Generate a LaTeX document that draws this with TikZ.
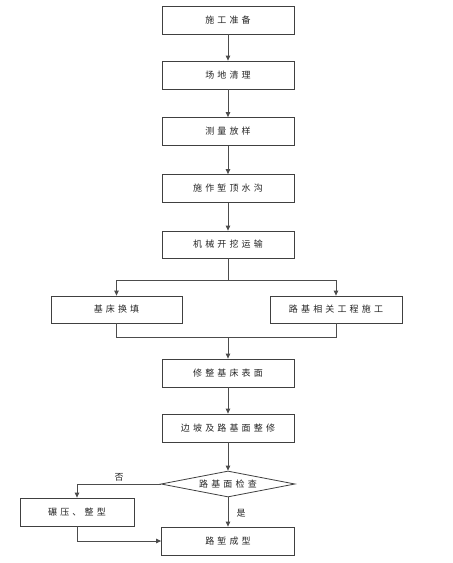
\documentclass[tikz,border=0pt]{standalone}
\usepackage{fontspec}
\newfontfamily\cjk[LetterSpace=35]{Noto Sans CJK SC}
\usetikzlibrary{shapes.geometric,arrows.meta}
\begin{document}
\begin{tikzpicture}[x=1pt,y=-1pt,
  box/.style={draw=black!75,line width=0.8pt,minimum height=28pt,inner sep=0pt,font=\cjk\fontsize{9}{10}\selectfont,text=black!85},
  dia/.style={draw=black!75,line width=0.8pt,diamond,aspect=5.2,minimum width=134pt,minimum height=26pt,inner sep=0pt,font=\cjk\fontsize{9}{10}\selectfont,text=black!85},
  lab/.style={font=\cjk\fontsize{9}{10}\selectfont,text=black!85},
  arr/.style={draw=black!70,line width=0.8pt,-{Triangle[length=5pt,width=4.5pt]}},
  ln/.style={draw=black!70,line width=0.8pt}]
\useasboundingbox (0,0) rectangle (453,563);
\fill[white] (0,0) rectangle (453,563);
\node[box,minimum width=132pt] (b1) at (228,20) {施工准备};
\node[box,minimum width=132pt] (b2) at (228,75) {场地清理};
\node[box,minimum width=132pt] (b3) at (228,131.5) {测量放样};
\node[box,minimum width=132pt] (b4) at (228,188.5) {施作堑顶水沟};
\node[box,minimum width=132pt,minimum height=27pt] (b5) at (228,244.5) {机械开挖运输};
\node[box,minimum width=131pt,minimum height=27pt] (l1) at (116.5,309.5) {基床换填};
\node[box,minimum width=132pt,minimum height=27pt] (r1) at (336,309.5) {路基相关工程施工};
\node[box,minimum width=132pt] (b6) at (228,373) {修整基床表面};
\node[box,minimum width=132pt] (b7) at (228,428) {边坡及路基面整修};
\node[dia] (d1) at (228,484) {路基面检查};
\node[box,minimum width=114pt] (k1) at (77,512) {碾压、整型};
\node[box,minimum width=133pt] (b8) at (228,541) {路堑成型};
\coordinate (split) at (228,280);
\coordinate (merge) at (228,337);
\draw[arr] (b1) -- (b2);
\draw[arr] (b2) -- (b3);
\draw[arr] (b3) -- (b4);
\draw[arr] (b4) -- (b5);
\draw[ln] (b5.south) -- (split);
\draw[arr] (split) -| (l1.north);
\draw[arr] (split) -| (r1.north);
\draw[ln] (l1.south) |- (merge);
\draw[ln] (r1.south) |- (merge);
\draw[arr] (merge) -- (b6.north);
\draw[arr] (b6) -- (b7);
\draw[arr] (b7.south) -- (d1.north);
\draw[arr] (d1.west) -| (k1.north);
\draw[arr] (d1.south) -- (b8.north);
\draw[arr] (k1.south) |- (b8.west);
\node[lab] (no) at (119,477) {否};
\node[lab] (yes) at (241,513) {是};
\end{tikzpicture}
\end{document}
